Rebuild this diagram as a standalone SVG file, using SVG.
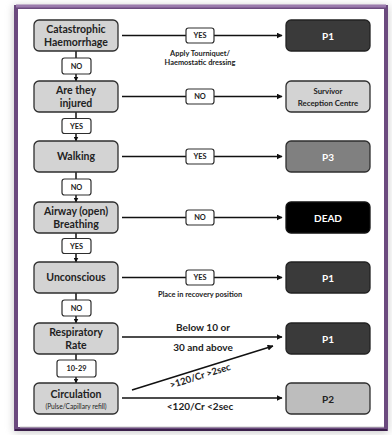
<svg xmlns="http://www.w3.org/2000/svg" width="392" height="435" viewBox="0 0 392 435">
  <defs>
    <filter id="glow" x="-10%" y="-10%" width="120%" height="120%">
      <feGaussianBlur stdDeviation="4"/>
    </filter>
    <marker id="arr" viewBox="0 0 10 10" refX="9" refY="5" markerWidth="6" markerHeight="6" markerUnits="userSpaceOnUse" orient="auto">
      <path d="M0,0 L10,5 L0,10 z" fill="#111"/>
    </marker>
    <marker id="arrS" viewBox="0 0 10 10" refX="9" refY="5" markerWidth="5" markerHeight="5" markerUnits="userSpaceOnUse" orient="auto">
      <path d="M0,0 L10,5 L0,10 z" fill="#111"/>
    </marker>
  </defs>
  <style>
    .q { fill: #d3d3d3; stroke: #2e2e2e; stroke-width: 1.3; }
    .lbl { fill: #ffffff; stroke: #2e2e2e; stroke-width: 1.2; }
    .t { font-family: Lato, "Liberation Sans", sans-serif; font-weight: bold; text-anchor: middle; fill: #222; }
    .big { font-size: 10.5px; }
    .sm { font-size: 7.4px; }
    .note { font-size: 7.4px; }
    .w { fill: #ffffff; }
    .ln { stroke: #111; stroke-width: 1.5; fill: none; }
  </style>

  <!-- page frame -->
  <rect x="14" y="6" width="374" height="426" fill="#888" opacity="0.5" filter="url(#glow)"/>
  <rect x="16" y="7" width="370" height="422" fill="#ffffff" stroke="#6b4a7e" stroke-width="4"/>
  <line x1="16" y1="6" x2="386" y2="6" stroke="#9b7bad" stroke-width="3"/>
  <line x1="20" y1="427" x2="384" y2="427" stroke="#cccccc" stroke-width="1"/>
  <line x1="15" y1="430" x2="387" y2="430" stroke="#3a1f4a" stroke-width="2"/>

  <!-- connectors -->
  <g id="connectors">
    <!-- main column -->
    <line class="ln" x1="76" y1="51" x2="76" y2="81" marker-end="url(#arrS)"/>
    <line class="ln" x1="76" y1="112" x2="76" y2="141" marker-end="url(#arrS)"/>
    <line class="ln" x1="76" y1="172" x2="76" y2="202" marker-end="url(#arrS)"/>
    <line class="ln" x1="76" y1="233" x2="76" y2="262" marker-end="url(#arrS)"/>
    <line class="ln" x1="76" y1="293" x2="76" y2="323" marker-end="url(#arrS)"/>
    <line class="ln" x1="76" y1="354" x2="76" y2="383" marker-end="url(#arrS)"/>
    <!-- outcome rows -->
    <line class="ln" x1="122" y1="35.5" x2="282" y2="35.5" marker-end="url(#arr)"/>
    <line class="ln" x1="122" y1="96.5" x2="282" y2="96.5" marker-end="url(#arr)"/>
    <line class="ln" x1="122" y1="156.5" x2="282" y2="156.5" marker-end="url(#arr)"/>
    <line class="ln" x1="122" y1="217.5" x2="282" y2="217.5" marker-end="url(#arr)"/>
    <line class="ln" x1="122" y1="277.5" x2="282" y2="277.5" marker-end="url(#arr)"/>
    <line class="ln" x1="122" y1="337" x2="282" y2="337" marker-end="url(#arr)"/>
    <line class="ln" x1="132" y1="390" x2="273" y2="346" marker-end="url(#arr)"/>
    <line class="ln" x1="122" y1="398" x2="282" y2="398" marker-end="url(#arr)"/>
  </g>

  <!-- decision column -->
  <g id="catastrophic">
    <rect class="q" x="34" y="20" width="84" height="31" rx="5"/>
    <text class="t big" x="76" y="32.5">Catastrophic</text>
    <text class="t big" x="76" y="46">Haemorrhage</text>
  </g>
  <g id="injured">
    <rect class="q" x="34" y="81" width="84" height="31" rx="5"/>
    <text class="t big" x="76" y="93.5">Are they</text>
    <text class="t big" x="76" y="107">injured</text>
  </g>
  <g id="walking">
    <rect class="q" x="34" y="141" width="84" height="31" rx="5"/>
    <text class="t big" x="76" y="160">Walking</text>
  </g>
  <g id="airway">
    <rect class="q" x="34" y="202" width="84" height="31" rx="5"/>
    <text class="t big" x="76" y="214.5">Airway (open)</text>
    <text class="t big" x="76" y="228">Breathing</text>
  </g>
  <g id="unconscious">
    <rect class="q" x="34" y="262" width="84" height="31" rx="5"/>
    <text class="t big" x="76" y="281">Unconscious</text>
  </g>
  <g id="respiratory">
    <rect class="q" x="34" y="323" width="84" height="31" rx="5"/>
    <text class="t big" x="76" y="335.5">Respiratory</text>
    <text class="t big" x="76" y="349">Rate</text>
  </g>
  <g id="circulation">
    <rect class="q" x="34" y="383" width="84" height="31" rx="5"/>
    <text class="t big" x="76" y="397.5">Circulation</text>
    <text class="t" x="76" y="409" style="font-size:6.6px;font-weight:normal">(Pulse/Capillary refill)</text>
  </g>

  <!-- column labels -->
  <g id="lbl-no-1"><rect class="lbl" x="62" y="58" width="29" height="16" rx="2.5"/><text class="t sm" x="76.5" y="68.7">NO</text></g>
  <g id="lbl-yes-2"><rect class="lbl" x="62" y="118.5" width="29" height="15" rx="2.5"/><text class="t sm" x="76.5" y="128.7">YES</text></g>
  <g id="lbl-no-3"><rect class="lbl" x="62" y="179" width="29" height="16" rx="2.5"/><text class="t sm" x="76.5" y="189.7">NO</text></g>
  <g id="lbl-yes-4"><rect class="lbl" x="62" y="238.5" width="29" height="15" rx="2.5"/><text class="t sm" x="76.5" y="248.7">YES</text></g>
  <g id="lbl-no-5"><rect class="lbl" x="62" y="300" width="29" height="16" rx="2.5"/><text class="t sm" x="76.5" y="310.7">NO</text></g>
  <g id="lbl-rate"><rect class="lbl" x="57" y="360" width="39" height="17" rx="2.5"/><text class="t sm" x="76.5" y="371.2">10-29</text></g>

  <!-- row labels -->
  <g id="lbl-r1"><rect class="lbl" x="186" y="28" width="28" height="15" rx="2.5"/><text class="t sm" x="200" y="38.2">YES</text></g>
  <g id="lbl-r2"><rect class="lbl" x="186" y="89" width="28" height="15" rx="2.5"/><text class="t sm" x="200" y="99.2">NO</text></g>
  <g id="lbl-r3"><rect class="lbl" x="186" y="149" width="28" height="15" rx="2.5"/><text class="t sm" x="200" y="159.2">YES</text></g>
  <g id="lbl-r4"><rect class="lbl" x="186" y="210" width="28" height="15" rx="2.5"/><text class="t sm" x="200" y="220.2">NO</text></g>
  <g id="lbl-r5"><rect class="lbl" x="186" y="270" width="28" height="15" rx="2.5"/><text class="t sm" x="200" y="280.2">YES</text></g>

  <!-- notes -->
  <text class="t note" x="200" y="55.5">Apply Tourniquet/</text>
  <text class="t note" x="200" y="64.5">Haemostatic dressing</text>
  <text class="t note" x="200" y="297">Place in recovery position</text>
  <text class="t" x="203" y="331" style="font-size:10px">Below 10 or</text>
  <text class="t" x="203" y="351" style="font-size:10px">30 and above</text>
  <text class="t" x="0" y="0" style="font-size:9.5px" transform="translate(201,379) rotate(-17.4)">&gt;120/Cr &gt;2sec</text>
  <text class="t" x="200" y="410" style="font-size:10px">&lt;120/Cr &lt;2sec</text>

  <!-- outcomes -->
  <g id="p1-a">
    <rect x="286" y="20" width="84" height="31" rx="5" fill="#3a3a3a" stroke="#222" stroke-width="1.3"/>
    <text class="t w" x="328" y="39.5" style="font-size:10px">P1</text>
  </g>
  <g id="survivor">
    <rect x="286" y="81" width="84" height="31" rx="5" fill="#d3d3d3" stroke="#2e2e2e" stroke-width="1.3"/>
    <text class="t" x="328" y="94" style="font-size:7.8px">Survivor</text>
    <text class="t" x="328" y="105.5" style="font-size:7.8px">Reception Centre</text>
  </g>
  <g id="p3">
    <rect x="286" y="141" width="84" height="31" rx="5" fill="#808080" stroke="#2e2e2e" stroke-width="1.3"/>
    <text class="t w" x="328" y="160.5" style="font-size:10px">P3</text>
  </g>
  <g id="dead">
    <rect x="286" y="202" width="84" height="31" rx="5" fill="#000" stroke="#111" stroke-width="1.3"/>
    <text class="t w" x="328" y="221.5" style="font-size:10px">DEAD</text>
  </g>
  <g id="p1-b">
    <rect x="286" y="262" width="84" height="31" rx="5" fill="#3a3a3a" stroke="#222" stroke-width="1.3"/>
    <text class="t w" x="328" y="281.5" style="font-size:10px">P1</text>
  </g>
  <g id="p1-c">
    <rect x="286" y="323" width="84" height="31" rx="5" fill="#3a3a3a" stroke="#222" stroke-width="1.3"/>
    <text class="t w" x="328" y="342.5" style="font-size:10px">P1</text>
  </g>
  <g id="p2">
    <rect x="286" y="383" width="84" height="31" rx="5" fill="#bdbdbd" stroke="#2e2e2e" stroke-width="1.3"/>
    <text class="t" x="328" y="402.5" style="font-size:10px">P2</text>
  </g>
</svg>
